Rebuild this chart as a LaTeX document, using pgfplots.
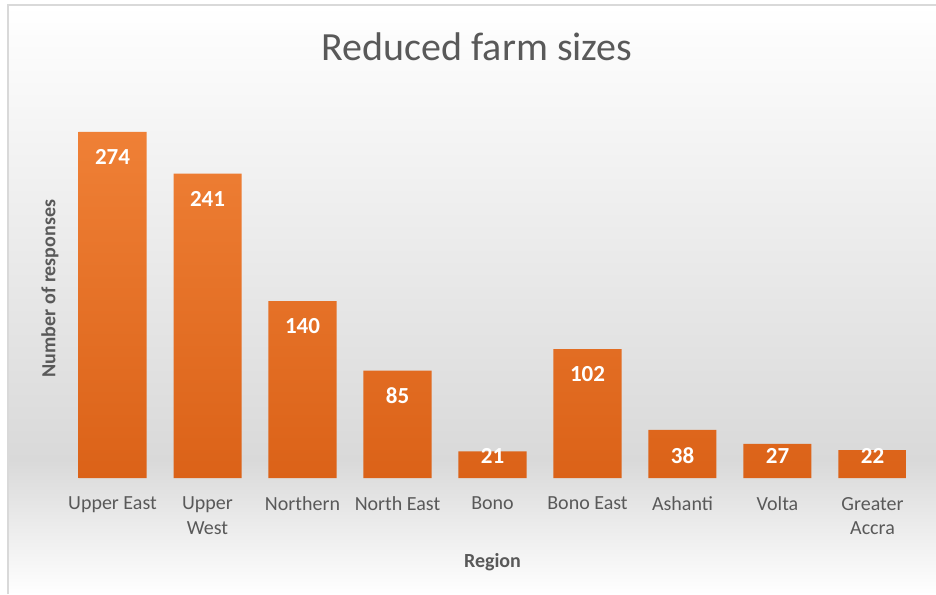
\documentclass[border=0pt]{standalone}
\usepackage{pgfplots}
\pgfplotsset{compat=1.18}
\usepackage{pgfplotstable}
\usepackage{fontspec}
\setmainfont{Carlito}
\definecolor{txt}{HTML}{595959}
\definecolor{bartop}{HTML}{EF8036}
\definecolor{barbot}{HTML}{DB6218}
\definecolor{bgmid}{HTML}{D9D9D9}
\definecolor{frame}{HTML}{D9D9D9}
\pgfplotstableread{
x v ly
0 274 254
1 241 221
2 140 120
3 85 65
4 21 17.5
5 102 82
6 38 18
7 27 17.5
8 22 17.5
}\farmdata
\begin{document}
\begin{tikzpicture}[x=1pt,y=1pt]
\useasboundingbox (0,0) rectangle (468,297);
\shade[top color=white, bottom color=bgmid] (4,67) rectangle (468,294.5);
\shade[top color=bgmid, bottom color=white] (4,0) rectangle (468,67.01);
\draw[frame, line width=1pt] (4,0) -- (4,294.5) -- (468,294.5);
\begin{axis}[
  at={(32.5pt,58pt)}, anchor=south west, scale only axis,
  width=427.5pt, height=189.5pt,
  xmin=-0.5, xmax=8.5, ymin=0, ymax=300,
  clip=false,
  /pgf/number format/assume math mode=true,
  axis line style={draw=none},
  ytick=\empty,
  xtick={0,...,8},
  xticklabels={Upper East,{Upper\\West},Northern,North East,Bono,Bono East,Ashanti,Volta,{Greater\\Accra}},
  major tick length=0pt,
  xticklabel style={font=\fontsize{10}{12.2}\selectfont, text=txt, align=center, anchor=north, yshift=-6pt},
  title={Reduced farm sizes},
  title style={font=\fontsize{20}{24}\selectfont, text=txt, at={(axis description cs:0.4819,1.1346)}, anchor=center, yshift=-5.5pt},
  xlabel={Region},
  xlabel style={font=\bfseries\fontsize{10}{12}\selectfont, text=txt, at={(axis description cs:0.5,-0.2164)}, anchor=center, yshift=-1pt},
  ylabel={Number of responses},
  ylabel style={font=\bfseries\fontsize{10}{12}\selectfont, text=txt, at={(axis description cs:-0.0175,0.5)}, anchor=center},
]
\addplot[ybar, bar width=34pt, draw=none, top color=bartop, bottom color=barbot] table[x=x, y=v] {\farmdata};
\addplot[draw=none, mark=none, nodes near coords, point meta=explicit,
  nodes near coords style={font=\bfseries\fontsize{11.5}{13}\selectfont, text=white, anchor=center}]
  table[x=x, y=ly, meta=v] {\farmdata};
\end{axis}
\end{tikzpicture}
\end{document}
